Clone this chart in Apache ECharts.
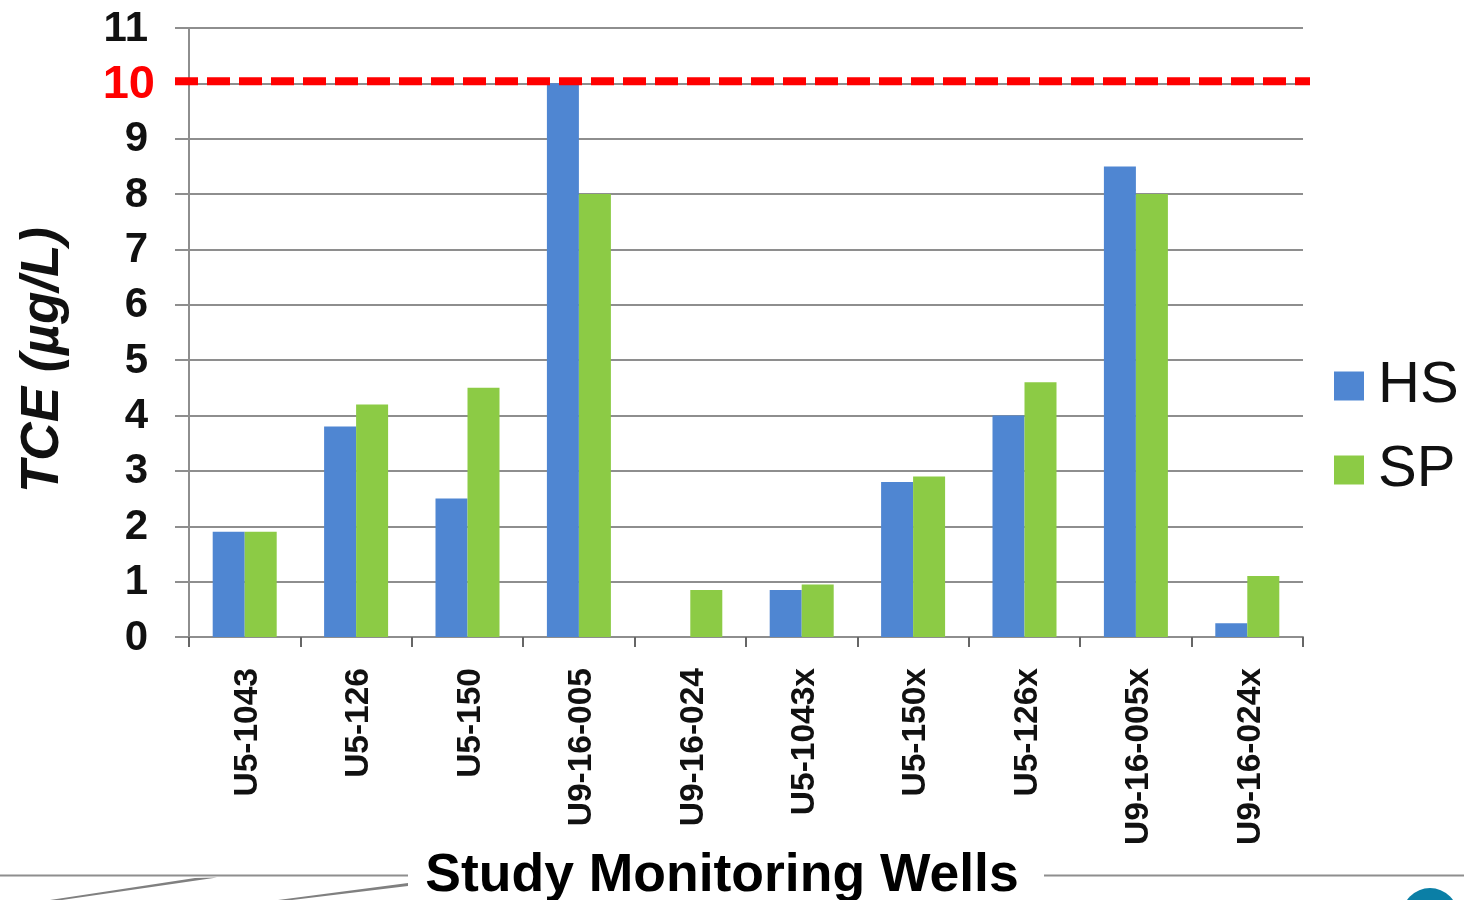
<!DOCTYPE html>
<html>
<head>
<meta charset="utf-8">
<title>TCE in study monitoring wells</title>
<style>
  html, body { margin: 0; padding: 0; background: #fff; }
  #chart { width: 1464px; height: 900px; }
</style>
<script src="https://cdn.jsdelivr.net/npm/echarts@6/dist/echarts.min.js"></script>
</head>
<body>
<div id="chart"></div>
<script>
// Monitoring wells along the category axis
const wells = ['U5-1043', 'U5-126', 'U5-150', 'U9-16-005', 'U9-16-024',
               'U5-1043x', 'U5-150x', 'U5-126x', 'U9-16-005x', 'U9-16-024x'];
// TCE concentrations in µg/L per sampler type
const hsValues = [1.9, 3.8, 2.5, 10, null, 0.85, 2.8, 4, 8.5, 0.25];
const spValues = [1.9, 4.2, 4.5, 8, 0.85, 0.95, 2.9, 4.6, 8, 1.1];
const yTicks = { min: 0, max: 11, interval: 1 };
// Regulatory limit, highlighted on the value axis
const tceLimit = 10;

const FONT = '"Liberation Sans", Arial, sans-serif';
const GRID_GREY = '#8e8e8e';
const BLUE = '#4f86d2';
const GREEN = '#8ccb45';

const chart = echarts.init(document.getElementById('chart'), null, { renderer: 'canvas' });

chart.setOption({
  animation: false,
  backgroundColor: '#ffffff',
  textStyle: { fontFamily: FONT },
  title: {
    text: 'Study Monitoring Wells',
    left: 722,
    top: 849,
    textAlign: 'center',
    padding: 0,
    textStyle: { fontFamily: FONT, fontSize: 53.5, fontWeight: 'bold', color: '#000' }
  },
  grid: { left: 189, right: 161, top: 28, bottom: 263, containLabel: false, outerBoundsMode: 'none' },
  legend: {
    left: 1334,
    top: 357,
    padding: 0,
    orient: 'vertical',
    data: ['HS', 'SP'],
    icon: 'rect',
    itemWidth: 30,
    itemHeight: 29,
    itemGap: 26,
    textStyle: { fontFamily: FONT, fontSize: 58, color: '#111', padding: [0, 0, 0, 9] }
  },
  xAxis: {
    type: 'category',
    data: wells,
    axisLine: { lineStyle: { color: GRID_GREY, width: 2 } },
    axisTick: { show: true, alignWithLabel: false, length: 10, lineStyle: { color: '#666', width: 2 } },
    axisLabel: {
      interval: 0,
      rotate: 90,
      margin: 31,
      formatter: v => '{well|' + v + '}',
      rich: {
        well: { fontFamily: FONT, fontSize: 33.5, fontWeight: 'bold', color: '#111', padding: [6, 0, 0, 0] }
      }
    }
  },
  yAxis: {
    type: 'value',
    min: yTicks.min,
    max: yTicks.max,
    interval: yTicks.interval,
    axisLine: { show: true, lineStyle: { color: GRID_GREY, width: 2 } },
    axisTick: { show: true, length: 14, lineStyle: { color: GRID_GREY, width: 2 } },
    splitLine: { show: true, lineStyle: { color: GRID_GREY, width: 2 } },
    axisLabel: {
      margin: 34,
      formatter: v => (v === tceLimit ? '{limit|' + v + '}' : '{tick|' + v + '}'),
      rich: {
        tick: { fontFamily: FONT, fontSize: 42, fontWeight: 'bold', color: '#111', padding: [2, 7, 0, 0] },
        limit: { fontFamily: FONT, fontSize: 47, fontWeight: 'bold', color: '#ff0000', padding: [4, 0, 0, 0] }
      }
    }
  },
  series: [
    { name: 'HS', type: 'bar', data: hsValues, barWidth: 32, barGap: 0, itemStyle: { color: BLUE } },
    { name: 'SP', type: 'bar', data: spValues, barWidth: 32, barGap: 0, itemStyle: { color: GREEN } },
    {
      // Dashed limit line; it overhangs the plot area on both sides
      name: 'Limit',
      type: 'custom',
      coordinateSystem: 'cartesian2d',
      clip: false,
      z: 10,
      silent: true,
      data: [[0, tceLimit]],
      renderItem: (params, api) => {
        const sys = params.coordSys;
        const y = api.coord([0, api.value(1)])[1] - 2;
        return {
          type: 'line',
          shape: { x1: sys.x - 14, y1: y, x2: sys.x + sys.width + 7, y2: y },
          style: { stroke: '#ff0000', lineWidth: 8, lineDash: [23, 9], fill: null }
        };
      }
    }
  ],
  // Vertical axis title plus slide furniture: footer rule, swooshes and corner badge
  graphic: [
    {
      type: 'text', silent: true, x: 43, y: 360, rotation: Math.PI / 2,
      style: {
        text: 'TCE (µg/L)', fontFamily: FONT, fontSize: 53, fontWeight: 'bold', fontStyle: 'italic',
        fill: '#111', align: 'center', verticalAlign: 'middle'
      }
    },
    { type: 'line', silent: true, shape: { x1: 0, y1: 875.5, x2: 408, y2: 875.5 }, style: { stroke: GRID_GREY, lineWidth: 2 } },
    { type: 'line', silent: true, shape: { x1: 1044, y1: 875.5, x2: 1464, y2: 875.5 }, style: { stroke: GRID_GREY, lineWidth: 2 } },
    { type: 'polygon', silent: true, shape: { points: [[50, 900], [195, 878], [217, 877.5], [62, 900]] }, style: { fill: '#808080' } },
    { type: 'polygon', silent: true, shape: { points: [[278, 900], [408, 883], [408, 886], [292, 900]] }, style: { fill: '#808080' } },
    { type: 'circle', silent: true, shape: { cx: 1430, cy: 916, r: 28 }, style: { fill: '#0b7fa6' } }
  ]
});
</script>
</body>
</html>
